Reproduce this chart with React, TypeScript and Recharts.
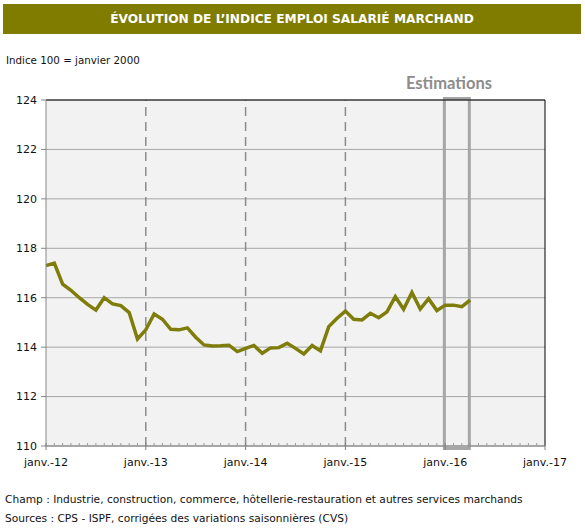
import {
  LineChart,
  Line,
  XAxis,
  YAxis,
  CartesianGrid,
  ReferenceLine,
  ReferenceArea,
} from "recharts";

// Indice emploi salarié marchand, mensuel, janv. 2012 -> avr. 2016
const valeurs = [
  117.3, 117.4, 116.55, 116.3, 116.0, 115.73, 115.5, 116.0, 115.75, 115.68, 115.4, 114.33,
  114.7, 115.34, 115.13, 114.72, 114.7, 114.78, 114.4, 114.09, 114.05, 114.06, 114.08, 113.82,
  113.95, 114.07, 113.75, 113.97, 113.98, 114.16, 113.95, 113.72, 114.07, 113.85, 114.83, 115.17,
  115.46, 115.13, 115.1, 115.37, 115.19, 115.43, 116.04, 115.53, 116.21, 115.54, 115.96, 115.48,
  115.7, 115.7, 115.64, 115.9,
];

const anneesLabels = ["janv.-12", "janv.-13", "janv.-14", "janv.-15", "janv.-16", "janv.-17"];
const yTicks = [110, 112, 114, 116, 118, 120, 122, 124];
const moisTicks = Array.from({ length: 61 }, (_, i) => i);
const lignesAnnees = [12, 24, 36];
// zone des estimations (en mois depuis janv.-12)
const estimDebut = 47.9;
const estimFin = 50.9;

const data = valeurs.map((v, i) => ({ m: i, v }));

const FONT = "'DejaVu Sans', sans-serif";

const MoisTick = (props: any) => {
  const { x, y, payload } = props;
  const m = payload.value;
  const major = m % 12 === 0;
  return (
    <g>
      {major ? (
        <line x1={x} y1={y - 3} x2={x} y2={y + 4} stroke="#808080" strokeWidth={1} />
      ) : (
        <line x1={x} y1={y} x2={x} y2={y - 3} stroke="#9a9a9a" strokeWidth={1} />
      )}
      {major && (
        <text x={x} y={y + 20} textAnchor="middle" fontSize={11} fontFamily={FONT} fill="#111">
          {anneesLabels[m / 12]}
        </text>
      )}
    </g>
  );
};

export default function App() {
  return (
    <div
      style={{
        position: "absolute",
        left: 0,
        top: 0,
        width: 585,
        height: 529,
        background: "#fff",
        fontFamily: FONT,
        color: "#111",
      }}
    >
      <div
        style={{
          position: "absolute",
          left: 3,
          top: 4,
          width: 578,
          height: 30,
          background: "#807c00",
          color: "#fff",
          fontWeight: "bold",
          fontSize: 12.2,
          lineHeight: "30px",
          textAlign: "center",
        }}
      >
        ÉVOLUTION DE L’INDICE EMPLOI SALARIÉ MARCHAND
      </div>
      <div style={{ position: "absolute", left: 6, top: 54, fontSize: 10.3 }}>
        Indice 100 = janvier 2000
      </div>
      <div
        style={{
          position: "absolute",
          left: 389,
          width: 120,
          top: 73,
          textAlign: "center",
          fontFamily: "Lato, sans-serif",
          fontWeight: "bold",
          fontSize: 16.5,
          color: "#8c8c8c",
        }}
      >
        Estimations
      </div>

      <div style={{ position: "absolute", left: 0, top: 0 }}>
        <LineChart
          width={585}
          height={529}
          data={data}
          margin={{ top: 100, right: 40, bottom: 53, left: 0 }}
        >
          <CartesianGrid vertical={false} stroke="#a6a6a6" fill="#f2f2f2" />
          <XAxis
            dataKey="m"
            type="number"
            domain={[0, 60]}
            ticks={moisTicks}
            interval={0}
            tickSize={0}
            tickMargin={0}
            tickLine={false}
            tick={<MoisTick />}
            height={30}
            axisLine={{ stroke: "#808080" }}
          />
          <YAxis
            domain={[110, 124]}
            ticks={yTicks}
            width={46}
            tickSize={5}
            tickMargin={4}
            tickLine={{ stroke: "#868686" }}
            axisLine={{ stroke: "#868686" }}
            tick={{ fontSize: 11, fontFamily: FONT, fill: "#111" }}
          />
          {lignesAnnees.map((x) => (
            <ReferenceLine
              key={x}
              x={x}
              stroke="#8c8c8c"
              strokeWidth={1.5}
              strokeDasharray="9 6"
            />
          ))}
          <ReferenceLine y={124} stroke="#000" strokeWidth={1} />
          <ReferenceLine x={60} stroke="#000" strokeWidth={1} />
          <Line
            type="linear"
            dataKey="v"
            stroke="#7f7d0a"
            strokeWidth={3.5}
            dot={false}
            isAnimationActive={false}
          />
          <ReferenceArea
            x1={estimDebut}
            x2={estimFin}
            y1={109.9}
            y2={124.06}
            ifOverflow="visible"
            fill="none"
            stroke="#a6a6a6"
            strokeWidth={3}
          />
        </LineChart>
      </div>

      <div style={{ position: "absolute", left: 5, top: 490, fontSize: 10.65, lineHeight: "19px" }}>
        <div>
          Champ : Industrie, construction, commerce, hôtellerie-restauration et autres services marchands
        </div>
        <div>Sources : CPS - ISPF, corrigées des variations saisonnières (CVS)</div>
      </div>
    </div>
  );
}
